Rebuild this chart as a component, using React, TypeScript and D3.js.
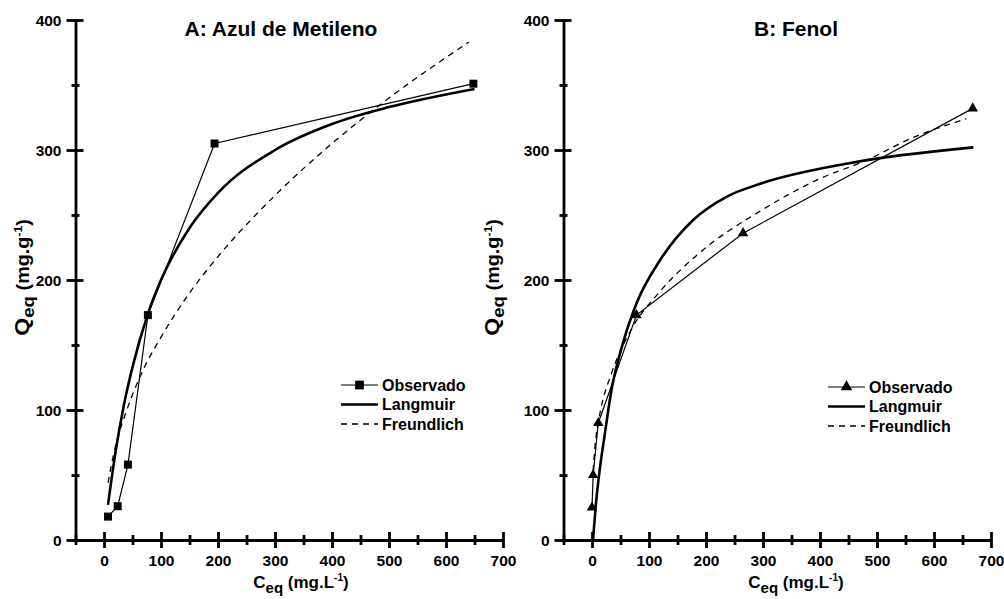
import { useEffect, useRef } from "react";
import * as d3 from "d3";

const W = 1004,
  H = 599;

// ticks
const ceqMajor = [0, 100, 200, 300, 400, 500, 600, 700];
const ceqMinor = [-50, 50, 150, 250, 350, 450, 550, 650];
const qMajor = [0, 100, 200, 300, 400];
const qMinor = [50, 150, 250, 350];

const legendLabels = ["Observado", "Langmuir", "Freundlich"];

// A: Azul de Metileno
const obsA_C = [7, 24, 42, 77, 194, 648];
const obsA_Q = [18, 26, 58, 173, 305, 351];
const langA_C = [7, 20, 35, 50, 77, 100, 150, 200, 300, 400, 500, 650];
const langA_Q = [27, 67, 104, 133, 174, 200, 240, 267, 300, 320, 333, 347];
const freA_C = [7, 20, 40, 70, 100, 150, 200, 300, 400, 500, 640];
const freA_Q = [44, 72, 100, 132, 156, 190, 218, 265, 305, 340, 383];

// B: Fenol
const obsB_C = [0, 2, 11, 78, 265, 668];
const obsB_Q = [25, 50, 90, 173, 236, 332];
const langB_C = [2, 6.5, 13.5, 22, 34, 52, 78, 119, 177, 236, 295, 453, 669];
const langB_Q = [1, 26, 54, 80, 115, 148, 182, 215, 246, 264, 274, 290, 302];
const freB_C = [2, 5, 10, 16, 34, 69, 119, 189, 295, 400, 481, 560, 657];
const freB_Q = [53, 71, 88, 102, 128, 162, 191, 221, 253, 278, 292, 309, 324];

const FONT = "'Liberation Sans', Arial, sans-serif";

const panels = [
  {
    title: "A: Azul de Metileno",
    titleX: 281,
    left: 75.5,
    right: 503,
    yLabelX: 28.5,
    xLabelX: 301,
    symbol: d3.symbolSquare,
    symbolSize: 64,
    obs: obsA_C.map((c, i) => [c, obsA_Q[i]]),
    lang: langA_C.map((c, i) => [c, langA_Q[i]]),
    fre: freA_C.map((c, i) => [c, freA_Q[i]]),
    legendX: 341,
    legendY: 385,
  },
  {
    title: "B: Fenol",
    titleX: 796,
    left: 563.5,
    right: 991,
    yLabelX: 498.5,
    xLabelX: 796,
    symbol: d3.symbolTriangle,
    symbolSize: 48,
    obs: obsB_C.map((c, i) => [c, obsB_Q[i]]),
    lang: langB_C.map((c, i) => [c, langB_Q[i]]),
    fre: freB_C.map((c, i) => [c, freB_Q[i]]),
    legendX: 828,
    legendY: 387,
  },
];

const App = () => {
  const ref = useRef<SVGSVGElement>(null);

  useEffect(() => {
    const svg = d3.select(ref.current);
    svg.selectAll("*").remove();

    const y = d3.scaleLinear().domain([0, 400]).range([540, 20]);

    panels.forEach((p) => {
      const g = svg.append("g").style("font-family", FONT);
      const x = d3.scaleLinear().domain([-50, 700]).range([p.left, p.right]);

      // x axis
      const xg = g
        .append("g")
        .attr("transform", "translate(0," + y(0) + ")")
        .call(d3.axisBottom(x).tickValues(ceqMajor).tickSize(8).tickSizeOuter(0));
      xg.selectAll(".tick line").attr("y1", -8).attr("y2", 8);
      xg.selectAll(".tick text").attr("y", 26).attr("dy", null);
      const xm = g
        .append("g")
        .attr("transform", "translate(0," + y(0) + ")")
        .call(d3.axisBottom(x).tickValues(ceqMinor).tickSize(5).tickSizeOuter(0).tickFormat(() => ""));
      xm.selectAll(".tick line").attr("y1", -5).attr("y2", 5);
      xm.select(".domain").remove();

      // y axis
      const yg = g
        .append("g")
        .attr("transform", "translate(" + x(-50) + ",0)")
        .call(d3.axisLeft(y).tickValues(qMajor).tickSize(9).tickSizeOuter(0));
      yg.selectAll(".tick line").attr("x1", -9).attr("x2", 8);
      yg.selectAll(".tick text").attr("x", -14).attr("dy", "0.36em");
      const ym = g
        .append("g")
        .attr("transform", "translate(" + x(-50) + ",0)")
        .call(d3.axisLeft(y).tickValues(qMinor).tickSize(4).tickSizeOuter(0).tickFormat(() => ""));
      ym.selectAll(".tick line").attr("x1", -4).attr("x2", 4);
      ym.select(".domain").remove();

      g.selectAll(".domain, .tick line").attr("stroke", "#000").attr("stroke-width", 2.8);
      g.selectAll(".tick text")
        .attr("fill", "#000")
        .style("font-family", FONT)
        .style("font-size", "15.5px")
        .style("font-weight", "bold");

      // title
      g.append("text")
        .attr("x", p.titleX)
        .attr("y", 36)
        .attr("text-anchor", "middle")
        .style("font-size", "21px")
        .style("font-weight", "bold")
        .text(p.title);

      // x label
      const xl = g
        .append("text")
        .attr("x", p.xLabelX)
        .attr("y", 588)
        .attr("text-anchor", "middle")
        .style("font-size", "17px")
        .style("font-weight", "bold");
      xl.append("tspan").text("C");
      xl.append("tspan").attr("dy", 5).style("font-size", "15px").text("eq");
      xl.append("tspan").attr("dy", -5).text(" (mg.L");
      xl.append("tspan").attr("dy", -7).style("font-size", "10px").text("-1");
      xl.append("tspan").attr("dy", 7).text(")");

      // y label (stretched a bit along its length, like the original)
      const yl = g
        .append("text")
        .attr("transform", "translate(" + p.yLabelX + ",277.5) rotate(-90) scale(1.1,1)")
        .attr("text-anchor", "middle")
        .style("font-size", "18px")
        .style("font-weight", "bold");
      yl.append("tspan").style("font-size", "21px").text("Q");
      yl.append("tspan").attr("dy", 5).style("font-size", "17px").text("eq");
      yl.append("tspan").attr("dy", -5).text(" (mg.g");
      yl.append("tspan").attr("dy", -7).style("font-size", "11px").text("-1");
      yl.append("tspan").attr("dy", 7).text(")");

      const line = d3
        .line<number[]>()
        .x((d) => x(d[0]))
        .y((d) => y(d[1]));
      const smooth = d3
        .line<number[]>()
        .x((d) => x(d[0]))
        .y((d) => y(d[1]))
        .curve(d3.curveMonotoneX);

      // Freundlich
      g.append("path")
        .attr("d", smooth(p.fre))
        .attr("fill", "none")
        .attr("stroke", "#000")
        .attr("stroke-width", 1.3)
        .attr("stroke-dasharray", "6,5");

      // Langmuir
      g.append("path")
        .attr("d", smooth(p.lang))
        .attr("fill", "none")
        .attr("stroke", "#000")
        .attr("stroke-width", 2.6);

      // Observado
      g.append("path")
        .attr("d", line(p.obs))
        .attr("fill", "none")
        .attr("stroke", "#000")
        .attr("stroke-width", 1.2);
      const sym = d3.symbol().type(p.symbol).size(p.symbolSize);
      g.append("g")
        .selectAll("path")
        .data(p.obs)
        .enter()
        .append("path")
        .attr("d", sym)
        .attr("transform", (d) => "translate(" + x(d[0]) + "," + y(d[1]) + ")")
        .attr("fill", "#000");

      // legend
      const lg = g.append("g").attr("transform", "translate(" + p.legendX + "," + p.legendY + ")");
      const rowH = 19.5;
      lg.append("line").attr("x1", 0).attr("x2", 37).attr("y1", 0).attr("y2", 0).attr("stroke", "#000").attr("stroke-width", 1.2);
      lg.append("path")
        .attr("d", d3.symbol().type(p.symbol).size(p.symbolSize * 1.2)())
        .attr("transform", "translate(18.5,0)")
        .attr("fill", "#000");
      lg.append("line").attr("x1", 0).attr("x2", 37).attr("y1", rowH).attr("y2", rowH).attr("stroke", "#000").attr("stroke-width", 2.6);
      lg.append("line")
        .attr("x1", 0)
        .attr("x2", 37)
        .attr("y1", rowH * 2)
        .attr("y2", rowH * 2)
        .attr("stroke", "#000")
        .attr("stroke-width", 1.3)
        .attr("stroke-dasharray", "6,5");
      legendLabels.forEach((t, i) => {
        lg.append("text")
          .attr("x", 41)
          .attr("y", i * rowH)
          .attr("dy", "0.36em")
          .style("font-size", "16px")
          .style("font-weight", "bold")
          .text(t);
      });
    });
  }, []);

  return <svg ref={ref} width={W} height={H} style={{ position: "absolute", left: 0, top: 0, background: "#fff" }} />;
};

export default App;
